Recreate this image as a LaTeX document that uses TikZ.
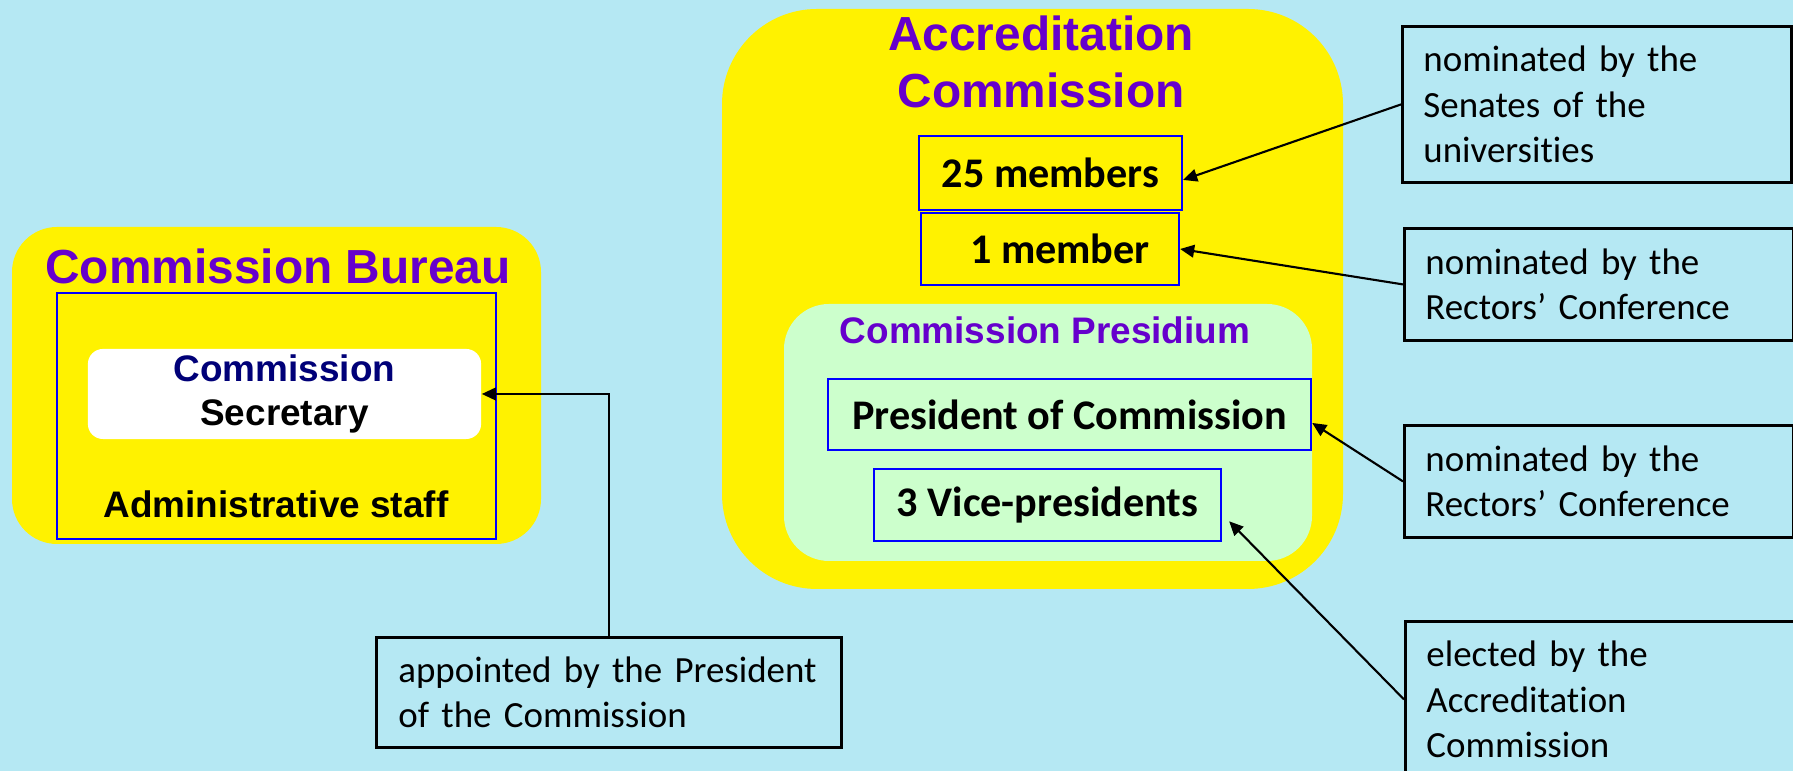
\documentclass[tikz,border=0pt]{standalone}
\usepackage{fontspec}
\setmainfont{Liberation Sans}
\newfontfamily\carl[Ligatures=NoCommon]{Carlito}
\usetikzlibrary{arrows.meta}
\definecolor{bgblue}{RGB}{181,232,243}
\definecolor{hdpurple}{RGB}{102,0,204}
\definecolor{navy}{RGB}{0,0,120}
\definecolor{palegreen}{RGB}{204,255,204}
\tikzset{
  headtxt/.style={font=\bfseries\fontsize{13.6}{16.2}\selectfont, text=hdpurple, align=center},
  memberbox/.style={draw=blue, line width=0.6pt, inner sep=0pt, font=\carl\bfseries\fontsize{12}{14}\selectfont},
  notebox/.style={draw=black, line width=0.8pt, fill=bgblue, anchor=north west, text width=3.47cm,
    inner xsep=0.21cm, align=left, font=\carl\fontsize{10.5}{12.9}\selectfont},
  arr/.style={draw=black, line width=0.6pt, -{Triangle[length=4pt,width=3.6pt]}}
}

\begin{document}
\begin{tikzpicture}[x=0.01cm, y=-0.01cm]
\useasboundingbox (0,0) rectangle (1793,771);
\clip (0,0) rectangle (1793,771);
\fill[bgblue] (0,0) rectangle (1793,771);
\fill[yellow, rounded corners=0.45cm] (12,227) rectangle (541,544);
\fill[yellow, rounded corners=0.95cm] (722,9) rectangle (1343,589);
\fill[palegreen, rounded corners=0.45cm] (784,304) rectangle (1312,561);

\node[headtxt, anchor=base] (bureau) at (278,284) {Commission Bureau};
\node[draw=blue, line width=0.6pt, minimum width=4.39cm, minimum height=2.46cm] (staff) at (276.5,416) {};
\node[fill=white, rounded corners=0.15cm, inner sep=0pt, minimum width=3.93cm, minimum height=0.9cm,
  align=center, font=\bfseries\fontsize{10.5}{12.5}\selectfont] (sec) at (284.5,394) {\textcolor{navy}{Commission}\\Secretary};
\node[anchor=base, font=\bfseries\fontsize{10.5}{12}\selectfont] (admin) at (276,518) {Administrative staff};

\node[headtxt] (accr) at (1041,62) {Accreditation\\Commission};
\node[memberbox, minimum width=2.63cm, minimum height=0.74cm] (m25) at (1050.5,173) {25 members};
\node[memberbox, minimum width=2.58cm, minimum height=0.72cm] (m1) at (1050,249) {\hspace{0.2cm}1 member};
\node[headtxt, anchor=base, font=\bfseries\fontsize{10.5}{12}\selectfont] (presid) at (1045,344) {Commission Presidium};
\node[memberbox, minimum width=4.83cm, minimum height=0.71cm] (pres) at (1069.5,414.5) {President of Commission};
\node[memberbox, minimum width=3.47cm, minimum height=0.72cm] (vice) at (1047.5,505) {3 Vice-presidents};

\node[notebox, minimum height=1.56cm] (senate) at (1401,25) {nominated by the\\Senates of the\\universities};
\node[notebox, minimum height=1.12cm] (rectA) at (1403,227) {nominated by the\\Rectors’ Conference};
\node[notebox, minimum height=1.12cm] (rectB) at (1403,424) {nominated by the\\Rectors’ Conference};
\node[notebox, minimum height=1.56cm] (elect) at (1404,620) {elected by the\\Accreditation\\Commission};
\node[notebox, text width=4.21cm, inner xsep=0.22cm, minimum height=1.10cm] (appt) at (375,636) {appointed by the President\\of the Commission};

\draw[arr] (appt.north) |- (sec.east);
\draw[arr] (senate.west) -- (m25.-3);
\draw[arr] (rectA.west) -- (m1.east);
\draw[arr] (rectB.west) -- (pres.-2);
\draw[arr, shorten >=0.1cm] (elect.west) -- (vice.-3);
\end{tikzpicture}
\end{document}
